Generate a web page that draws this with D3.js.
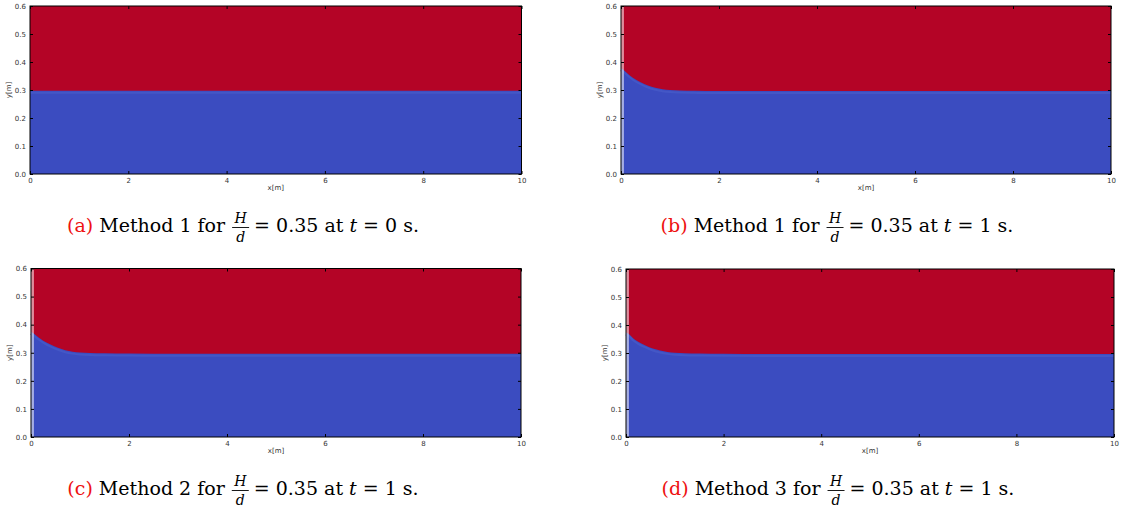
<!DOCTYPE html>
<html>
<head>
<meta charset="utf-8">
<script src="https://cdn.jsdelivr.net/npm/d3@7"></script>
<style>
  html, body { margin: 0; padding: 0; background: #fff; }
  svg { display: block; }
  text { white-space: pre; }
</style>
</head>
<body>
<svg id="chart" width="1127" height="513"></svg>
<script>
// Achsen-Ticks
const xTicks = [0, 2, 4, 6, 8, 10];
const yTicks = [0.0, 0.1, 0.2, 0.3, 0.4, 0.5, 0.6];

// x-Positionen der Grenzfläche (Wasser/Luft)
const interfaceX = [0, 0.05, 0.15, 0.25, 0.4, 0.55, 0.7, 0.85, 1.0, 1.2, 1.5, 2, 3, 4, 6, 8, 10];
// Höhe der Grenzfläche je Panel
const interfaceA = [0.297, 0.297, 0.297, 0.297, 0.297, 0.297, 0.297, 0.297, 0.297, 0.297, 0.297, 0.297, 0.297, 0.297, 0.297, 0.297, 0.297];
const interfaceB = [0.378, 0.372, 0.356, 0.343, 0.328, 0.316, 0.308, 0.303, 0.300, 0.298, 0.297, 0.296, 0.296, 0.296, 0.296, 0.296, 0.296];
const interfaceC = [0.375, 0.369, 0.355, 0.343, 0.329, 0.318, 0.309, 0.304, 0.301, 0.299, 0.298, 0.297, 0.296, 0.296, 0.296, 0.296, 0.296];
const interfaceD = [0.374, 0.369, 0.352, 0.340, 0.327, 0.316, 0.309, 0.304, 0.301, 0.299, 0.298, 0.297, 0.296, 0.296, 0.296, 0.296, 0.296];

// Beschriftungen
const captionTags = ["(a)", "(b)", "(c)", "(d)"];
const captionMethods = ["Method 1", "Method 1", "Method 2", "Method 3"];
const captionTimes = ["0", "1", "1", "1"];

const RED = "#b40426";
const BLUE = "#3b4cc0";

const panels = [
  { box: [30, 521.5, 6, 174], data: interfaceA, wall: false, cap: [243, 232] },
  { box: [621, 1111, 6, 174], data: interfaceB, wall: true, cap: [837, 232] },
  { box: [31, 521, 268.5, 437], data: interfaceC, wall: true, cap: [243, 495] },
  { box: [626, 1114, 269, 437], data: interfaceD, wall: true, cap: [838, 495] },
];

const svg = d3.select("#chart");

panels.forEach((p, i) => {
  const [x0, x1, y0, y1] = p.box;
  const x = d3.scaleLinear().domain([0, 10]).range([x0, x1]);
  const y = d3.scaleLinear().domain([0, 0.6]).range([y1, y0]);
  const g = svg.append("g");

  // Luft (rot) als Hintergrund
  g.append("rect")
    .attr("x", x0).attr("y", y0)
    .attr("width", x1 - x0).attr("height", y1 - y0)
    .attr("fill", RED);

  // Wasser (blau) bis zur Grenzfläche
  const area = d3.area()
    .x((d, j) => x(interfaceX[j]))
    .y0(y(0))
    .y1((d) => y(d))
    .curve(d3.curveMonotoneX);

  g.append("path")
    .datum(p.data)
    .attr("d", area)
    .attr("fill", BLUE);

  // leicht hellerer Saum unter der Grenzfläche
  const line = d3.line()
    .x((d, j) => x(interfaceX[j]))
    .y((d) => y(d) + 2)
    .curve(d3.curveMonotoneX);
  g.append("path")
    .datum(p.data)
    .attr("d", line)
    .attr("fill", "none")
    .attr("stroke", "#4457c6")
    .attr("stroke-width", 2);

  // heller Streifen an der linken Wand
  if (p.wall) {
    g.append("rect")
      .attr("x", x(0)).attr("y", y0)
      .attr("width", x(0.06) - x(0)).attr("height", y1 - y0)
      .attr("fill", "#ffffff")
      .attr("opacity", 0.55);
  }

  // Rahmen
  g.append("rect")
    .attr("x", x0).attr("y", y0)
    .attr("width", x1 - x0).attr("height", y1 - y0)
    .attr("fill", "none")
    .attr("stroke", "#000")
    .attr("stroke-width", 1);

  // Achsen mit nach innen zeigenden Ticks (klassischer matplotlib-Stil)
  const axStyle = (sel) => {
    sel.select(".domain").remove();
    sel.selectAll("line").attr("stroke", "#000");
    sel.selectAll("text")
      .attr("fill", "#333")
      .style("font-family", "DejaVu Sans, sans-serif")
      .style("font-size", "7px");
  };

  g.append("g")
    .attr("transform", `translate(0,${y1})`)
    .call(d3.axisBottom(x).tickValues(xTicks).tickFormat(d3.format("d")).tickSize(-3).tickPadding(4))
    .call(axStyle);
  g.append("g")
    .attr("transform", `translate(0,${y0})`)
    .call(d3.axisTop(x).tickValues(xTicks).tickFormat("").tickSize(-3))
    .call(axStyle);
  g.append("g")
    .attr("transform", `translate(${x0},0)`)
    .call(d3.axisLeft(y).tickValues(yTicks).tickFormat(d3.format(".1f")).tickSize(-3).tickPadding(4))
    .call(axStyle);
  g.append("g")
    .attr("transform", `translate(${x1},0)`)
    .call(d3.axisRight(y).tickValues(yTicks).tickFormat("").tickSize(-3))
    .call(axStyle);

  // Achsentitel
  g.append("text")
    .attr("x", (x0 + x1) / 2).attr("y", y1 + 16)
    .attr("text-anchor", "middle")
    .style("font-family", "DejaVu Sans, sans-serif")
    .style("font-size", "7px")
    .attr("fill", "#333")
    .text("x[m]");
  g.append("text")
    .attr("transform", `translate(${x0 - 19},${(y0 + y1) / 2}) rotate(-90)`)
    .attr("text-anchor", "middle")
    .style("font-family", "DejaVu Sans, sans-serif")
    .style("font-size", "7px")
    .attr("fill", "#333")
    .text("y[m]");

  // Bildunterschrift mit Bruch H/d
  const cap = svg.append("g");
  const serif = "DejaVu Serif, serif";
  const fs = 19;
  const t1 = cap.append("text")
    .attr("y", 0)
    .style("font-family", serif)
    .style("font-size", fs + "px");
  t1.append("tspan").attr("fill", "#ee1111").text(captionTags[i]);
  t1.append("tspan").attr("fill", "#000").text(` ${captionMethods[i]} for`);
  const w1 = t1.node().getComputedTextLength();

  const fracW = 17;
  const fx = w1 + 7;
  cap.append("text")
    .attr("x", fx + fracW / 2).attr("y", -9)
    .attr("text-anchor", "middle")
    .style("font-family", serif).style("font-style", "italic")
    .style("font-size", "14px").attr("fill", "#000")
    .text("H");
  cap.append("line")
    .attr("x1", fx).attr("x2", fx + fracW)
    .attr("y1", -4.5).attr("y2", -4.5)
    .attr("stroke", "#000").attr("stroke-width", 0.9);
  cap.append("text")
    .attr("x", fx + fracW / 2).attr("y", 10)
    .attr("text-anchor", "middle")
    .style("font-family", serif).style("font-style", "italic")
    .style("font-size", "14px").attr("fill", "#000")
    .text("d");

  const t2 = cap.append("text")
    .attr("x", fx + fracW + 5).attr("y", 0)
    .style("font-family", serif)
    .style("font-size", fs + "px")
    .attr("fill", "#000");
  t2.append("tspan").text("= 0.35 at ");
  t2.append("tspan").style("font-style", "italic").text("t");
  t2.append("tspan").text(` = ${captionTimes[i]} s.`);
  const total = fx + fracW + 5 + t2.node().getComputedTextLength();

  cap.attr("transform", `translate(${p.cap[0] - total / 2},${p.cap[1]})`);
});
</script>
</body>
</html>
